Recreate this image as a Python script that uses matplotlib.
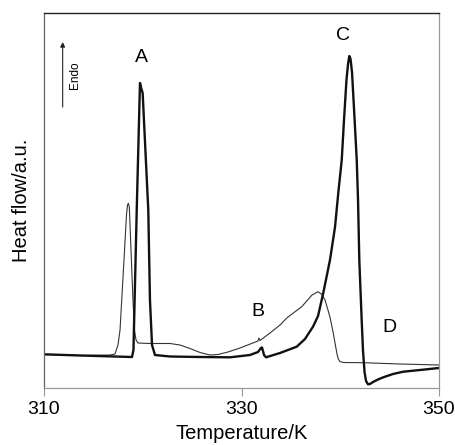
import matplotlib
matplotlib.use("Agg")
import matplotlib.pyplot as plt

plt.rcParams['font.family'] = ['Liberation Sans', 'DejaVu Sans']

# Thick curve (temperature K, heat flow a.u.)
thick_T = [310.00, 313.65, 318.91, 319.06, 319.39, 319.72, 319.84, 319.99, 320.56, 320.73,
           320.94, 321.24, 322.76, 325.80, 328.84, 330.86, 331.67, 331.97, 332.08, 332.28,
           332.48, 333.90, 335.59, 336.43, 337.24, 337.75, 338.28, 338.96, 339.47, 339.80,
           340.15, 340.38, 340.63, 340.80, 340.92, 341.04, 341.19, 341.39, 341.67, 341.80,
           341.93, 342.17, 342.30, 342.46, 342.61, 342.81, 343.01, 343.32, 343.82, 344.36,
           345.34, 346.38, 348.08, 350.00]
thick_H = [33.7, 32.5, 31, 38, 178, 305, 300, 295, 178, 88,
           43, 33, 31.5, 31, 30.7, 33, 36, 40, 40.5, 33,
           30.7, 35, 41.3, 49, 61.3, 72, 95, 128, 161, 195,
           228, 268, 308, 325, 332, 329, 316, 280, 228, 188,
           128, 68, 38, 16, 7, 3.7, 4, 6, 8.5, 10.7,
           14, 16.3, 18, 20]

# Thin curve
thin_T = [310.00, 313.65, 316.68, 317.19, 317.49, 317.70, 317.87, 318.10, 318.35, 318.46,
          318.54, 318.64, 318.81, 319.01, 319.16, 319.32, 319.52, 320.73, 322.76, 323.77,
          324.78, 325.80, 326.81, 327.62, 328.63, 329.85, 331.67, 331.77, 331.87, 332.89,
          333.90, 334.58, 336.10, 337.14, 337.75, 338.15, 338.46, 338.96, 339.29, 339.47,
          339.67, 339.80, 339.97, 340.31, 342.30, 346.05, 350.00]
thin_H = [33.5, 32.5, 33, 34, 43, 58, 88, 128, 173, 183,
          184.7, 181, 138, 88, 58, 48, 45, 44.5, 44.5, 43,
          39.5, 35.5, 33, 33.5, 36, 40, 47, 50, 47.5, 55,
          63, 70, 81.3, 93, 96.3, 93.5, 88, 71, 55, 45,
          34, 29, 26.5, 25.5, 25.3, 24, 23]

x_ticks = [310, 330, 350]
peak_labels = ['A', 'B', 'C', 'D']
peak_pos = [(319.86, 330), (331.67, 76), (340.28, 353), (345.0, 61)]

fig = plt.figure(figsize=(4.56, 4.45), dpi=100)
ax = fig.add_axes([44/456, 1-388/445, (439-44)/456, (388-13)/445])

ax.plot(thin_T, thin_H, color='#333333', lw=0.8, solid_joinstyle='round')
ax.plot(thick_T, thick_H, color='#111111', lw=1.7, solid_joinstyle='round')

ax.set_xlim(310, 350)
ax.set_ylim(0, 375)
ax.set_xticks(x_ticks)
ax.set_xticklabels([str(t) for t in x_ticks])
ax.set_yticks([])
ax.tick_params(axis='x', direction='out', length=6, width=0.8, color='#999999',
               labelsize=14, pad=3)

ax.spines['top'].set_color('#222222')
ax.spines['top'].set_linewidth(1.0)
ax.spines['left'].set_color('#666666')
ax.spines['left'].set_linewidth(0.9)
for s in ['right', 'bottom']:
    ax.spines[s].set_color('#999999')
    ax.spines[s].set_linewidth(0.9)

ax.set_xlabel('Temperature/K', fontsize=14.5, labelpad=5)
ax.set_ylabel('Heat flow/a.u.', fontsize=14.5, labelpad=9)

for lab, (tx, ty) in zip(peak_labels, peak_pos):
    ax.text(tx, ty, lab, fontsize=14, ha='center', va='center')

ax.annotate('', xy=(311.89, 346), xytext=(311.89, 281),
            arrowprops=dict(arrowstyle='-|>', lw=0.8, color='#222222', mutation_scale=7,
                            shrinkA=0, shrinkB=0))
ax.text(313.14, 313, 'Endo', fontsize=8.5, rotation=90, ha='center', va='center')

fig.savefig('out.png', dpi=100)
